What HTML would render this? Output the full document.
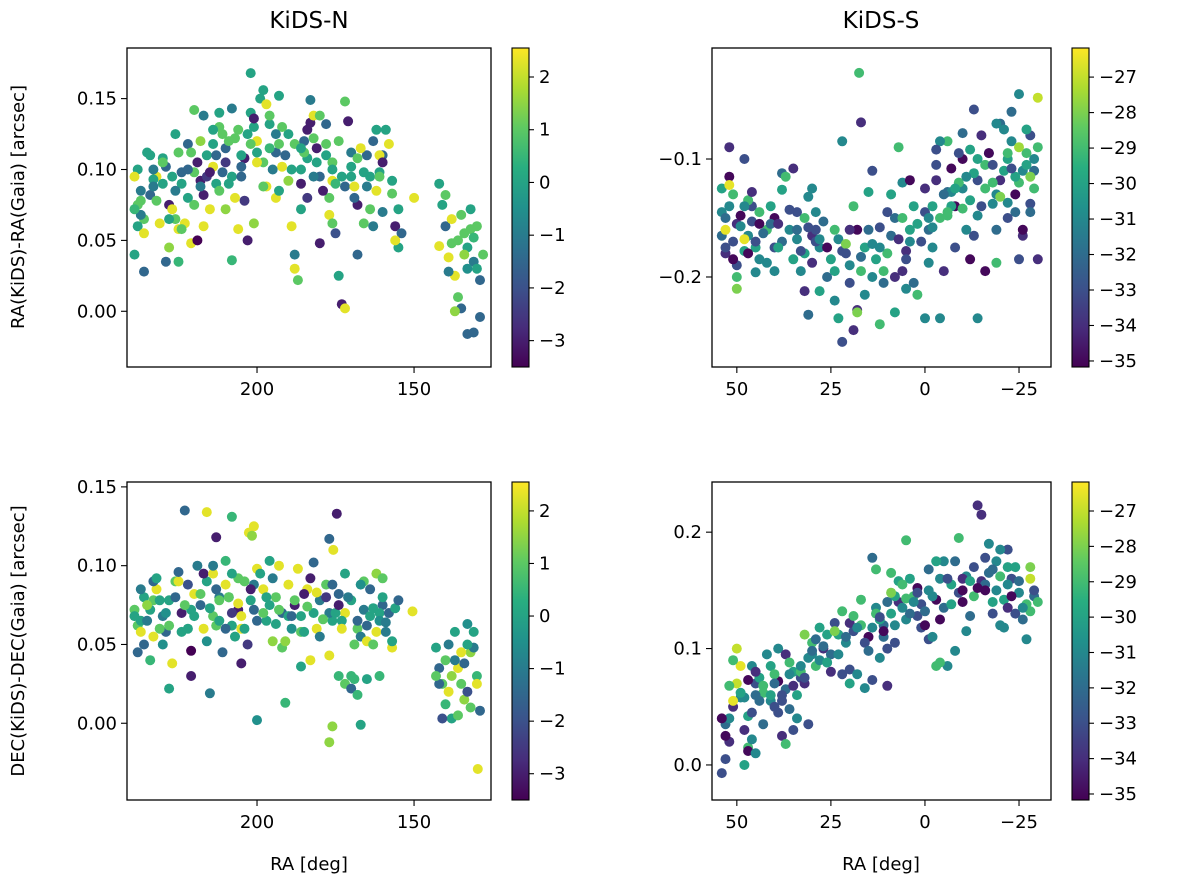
<!DOCTYPE html>
<html><head><meta charset="utf-8">
<style>
html,body{margin:0;padding:0;background:#fff;}
svg text{font-family:"DejaVu Sans","Liberation Sans",sans-serif;fill:#000;}
</style></head>
<body>
<svg id="fig" width="1200" height="891" viewBox="0 0 1200 891" xmlns="http://www.w3.org/2000/svg">
<defs>
<linearGradient id="viridis" x1="0" y1="1" x2="0" y2="0">
<stop offset="0" stop-color="#440154"/><stop offset="0.125" stop-color="#472d7b"/>
<stop offset="0.25" stop-color="#3b528b"/><stop offset="0.375" stop-color="#2c728e"/>
<stop offset="0.5" stop-color="#21918c"/><stop offset="0.625" stop-color="#28ae80"/>
<stop offset="0.75" stop-color="#5ec962"/><stop offset="0.875" stop-color="#addc30"/>
<stop offset="1" stop-color="#fde725"/>
</linearGradient>
</defs>
<text x="309" y="28" font-size="23" text-anchor="middle">KiDS-N</text>
<text x="881" y="28" font-size="23" text-anchor="middle">KiDS-S</text>
<text transform="translate(24,207) rotate(-90)" font-size="18" text-anchor="middle">RA(KiDS)-RA(Gaia) [arcsec]</text>
<text transform="translate(24,641) rotate(-90)" font-size="18" text-anchor="middle">DEC(KiDS)-DEC(Gaia) [arcsec]</text>
<text x="309" y="870" font-size="18" text-anchor="middle">RA [deg]</text>
<text x="881" y="870" font-size="18" text-anchor="middle">RA [deg]</text>
</svg>
<script>
// ---- Top-left: KiDS-N, RA offset ----
const raTL=[239,238,237,239,236,238,235,237,239,236,
234,233,232,231,230,229,228,227,226,225,
226,225,224,223,222,221,220,219,218,224,
219,218,217,216,215,214,213,212,217,215,
212,211,210,209,208,207,206,205,210,208,
205,204,203,202,201,200,199,198,203,201,
198,197,196,195,194,193,192,191,190,196,
189,188,187,186,185,184,183,182,188,186,
183,182,181,180,179,178,177,176,175,180,
176,175,174,173,172,172,171,170,169,168,
167,166,165,164,163,162,161,160,158,157,
156,155,155,154,156,157,150,159,163,161,
142,141,140,139,138,137,136,135,134,133,
132,131,130,129,128,142,137,133,131,130,
136,135,134,133,132,131,140,139,138,129,
230,227,222,214,207,200,194,186,178,170,
233,228,220,211,202,193,184,176,168,160];
const dTL=[0.095,0.075,0.068,0.040,0.028,0.060,0.112,0.085,0.072,0.055,
0.110,0.100,0.078,0.062,0.090,0.035,0.045,0.072,0.085,0.112,
0.125,0.035,0.098,0.062,0.080,0.048,0.142,0.105,0.088,0.058,
0.050,0.120,0.138,0.095,0.072,0.128,0.110,0.085,0.060,0.098,
0.140,0.125,0.105,0.090,0.143,0.080,0.058,0.110,0.072,0.036,
0.095,0.078,0.125,0.168,0.136,0.105,0.150,0.088,0.050,0.062,
0.156,0.146,0.115,0.100,0.080,0.152,0.130,0.110,0.092,0.138,
0.060,0.030,0.022,0.072,0.112,0.128,0.133,0.095,0.040,0.115,
0.149,0.138,0.105,0.138,0.085,0.132,0.068,0.105,0.090,0.048,
0.062,0.055,0.025,0.005,0.002,0.148,0.134,0.112,0.080,0.040,
0.115,0.098,0.088,0.072,0.120,0.128,0.110,0.105,0.118,0.083,
0.060,0.072,0.045,0.055,0.050,0.092,0.080,0.128,0.060,0.095,
0.090,0.075,0.060,0.038,0.048,0.025,0.010,0.002,0.055,0.045,
0.072,0.035,0.060,0.022,0.040,0.046,0.000,-0.016,-0.015,0.030,
0.050,0.068,0.040,0.030,0.058,0.052,0.082,0.028,0.065,-0.004,
0.105,0.095,0.100,0.118,0.122,0.112,0.125,0.100,0.118,0.095,
0.088,0.065,0.075,0.098,0.118,0.085,0.080,0.100,0.108,0.070];
const cTL=[2.3,1,-1,0,-1.5,0,0,-1,0.5,2.3,
0,-1,1,2.3,0,-1.5,1.5,2.3,-1,1,
0,0.5,-1.5,2.3,0,2.3,1,-3,-1,1,
-3.5,1.5,-1,-2.5,2.3,0,-1.5,1,2.3,-3,
0,1,-2.5,0,-1,2.3,2.3,0,1.5,0.5,
-1.5,-2.5,0,0,-3,2.3,0,1,-3,1.5,
0,2.3,0.5,-1,2.3,0,1,-1.5,1.5,1,
2.3,2.3,1,0,1,-3,-3,-1,-1,0,
-1,2.3,0,1,-3,-1.5,2.3,1,0.5,-3,
1,-2,0,-3,2.3,1,-3,-1,-1.5,-1.5,
2.3,0,-1,1,-1.5,0,2.3,-3,2.3,1,
-3,0,0,-1.5,2.3,0,2.3,0,-1,1,
0,0,-1.5,2.3,1,2.3,1,-1.5,1,0,
0,-1,1,-1.5,1,2.3,1.5,-1.5,-1.5,0,
1,1,1.5,-0.5,1,0.5,1,-1,2.3,-1.5,
1,0,-1.5,0,1,0,-1,0,1,0,
-1,0,1,-1.5,1,0,-2.5,0,1,-1];
const raTLb=[238,236,234,232,230,228,226,224,222,220,
218,216,214,212,210,208,206,204,202,200,
198,196,194,192,190,188,186,184,182,180,
178,176,174,172,170,168,166,164,162,160,
237,233,229,225,221,217,213,209,205,201,
197,193,189,185,181,177,173,169,165,161];
const dTLb=[0.100,0.065,0.082,0.095,0.108,0.075,0.065,0.090,0.118,0.098,
0.092,0.110,0.102,0.130,0.115,0.095,0.128,0.108,0.140,0.120,
0.105,0.132,0.112,0.102,0.125,0.118,0.090,0.108,0.122,0.095,
0.110,0.092,0.120,0.088,0.102,0.075,0.062,0.095,0.085,0.110,
0.078,0.093,0.102,0.058,0.112,0.082,0.090,0.120,0.102,0.130,
0.088,0.118,0.100,0.120,0.115,0.080,0.095,0.088,0.110,0.098];
const cTLb=[0,1,-1.5,2.3,0,-3,1,0,-1.5,1,
-3,0,2.3,1,-1.5,0,1,-3,0,2.3,
1,0,-1.5,2.3,0,1,-3,0,1,-1.5,
0,2.3,1,-1.5,0,-3,1,0,2.3,-1.5,
1,0,-1.5,2.3,1,-3,0,1,-1.5,0,
2.3,1,0,-1.5,-3,1,0,2.3,-1.5,0];

// ---- Top-right: KiDS-S, RA offset ----
const raTR=[54,53,53,52,52,51,50,50,49,48,
54,52,51,50,49,48,47,47,46,45,
46,45,44,43,42,41,40,40,39,38,
38,37,36,35,34,33,32,31,30,29,
33,32,31,30,29,28,27,26,25,24,
24,23,22,22,21,20,20,19,18,17,
19,18,17.5,17,16,15,15,14,13,12,
12,11,10,9,8,7,6,5,4,3,
9,8,6,5,4,3,2,1,0,-1,
0,-1,-2,-3,-4,-5,-6,-7,-8,-9,
-10,-11,-12,-13,-14,-15,-16,-17,-18,-19,
-20,-21,-22,-23,-24,-25,-26,-27,-28,-29,
-30,-30,-29,-28,-27,-26,-25,-24,-23,-22,
-21,-20,-19,-18,-17,-16,-15,-14,-13,-12,
-11,-10,-9,-8,-7,-6,-5,-4,-3,-2,
-28,-27,-25,-23,-22,-19,-14,-10,-6,-3,
53,51,48,44,39,34,28,21,14,7];
const dTR=[-0.145,-0.160,-0.175,-0.115,-0.090,-0.130,-0.190,-0.200,-0.148,-0.168,
-0.125,-0.122,-0.185,-0.210,-0.157,-0.100,-0.135,-0.180,-0.153,-0.196,
-0.128,-0.170,-0.145,-0.163,-0.188,-0.140,-0.175,-0.195,-0.155,-0.112,
-0.126,-0.115,-0.143,-0.108,-0.168,-0.178,-0.150,-0.132,-0.188,-0.145,
-0.195,-0.212,-0.232,-0.125,-0.160,-0.212,-0.153,-0.175,-0.185,-0.195,
-0.220,-0.235,-0.255,-0.085,-0.172,-0.205,-0.160,-0.140,-0.228,-0.183,
-0.245,-0.230,-0.027,-0.069,-0.215,-0.160,-0.128,-0.110,-0.185,-0.240,
-0.175,-0.195,-0.145,-0.165,-0.230,-0.090,-0.120,-0.185,-0.160,-0.205,
-0.130,-0.200,-0.150,-0.210,-0.118,-0.140,-0.215,-0.170,-0.125,-0.188,
-0.235,-0.160,-0.140,-0.105,-0.235,-0.195,-0.085,-0.128,-0.175,-0.120,
-0.100,-0.160,-0.185,-0.112,-0.235,-0.140,-0.195,-0.095,-0.120,-0.188,
-0.070,-0.110,-0.150,-0.085,-0.130,-0.045,-0.165,-0.105,-0.080,-0.125,
-0.048,-0.185,-0.100,-0.145,-0.095,-0.160,-0.185,-0.115,-0.060,-0.137,
-0.075,-0.132,-0.160,-0.105,-0.095,-0.125,-0.080,-0.148,-0.058,-0.092,
-0.115,-0.142,-0.095,-0.125,-0.108,-0.148,-0.130,-0.085,-0.118,-0.158,
-0.115,-0.075,-0.090,-0.108,-0.095,-0.070,-0.100,-0.078,-0.145,-0.092,
-0.150,-0.170,-0.140,-0.155,-0.175,-0.160,-0.168,-0.180,-0.172,-0.168];
const cTR=[-31,-26.5,-33,-35,-34,-29,-33,-29,-35,-26.5,
-30,-26.5,-35,-28,-31,-33,-29,-35,-33,-31,
-34,-33,-29,-32,-31,-30,-33,-31,-34,-32,
-30,-29,-33,-34,-31,-33,-29,-31,-34,-31,
-31,-34,-32,-31,-33,-30,-32,-35,-30,-30,
-31,-30,-33,-31,-28,-33,-34,-29,-34,-32,
-34,-28,-29,-34,-31,-32,-30,-33,-30,-29,
-31,-29,-33,-32,-30,-29,-31,-33,-30,-32,
-30,-34,-29,-31,-35,-30,-29,-33,-34,-31,
-31,-32,-30,-33,-31,-34,-29,-31,-33,-29,
-35,-31,-35,-30,-31,-33,-35,-32,-29,-29,
-32,-30,-33,-31,-35,-31,-34,-30,-33,-29,
-27,-34,-31,-32,-29,-35,-33,-30,-32,-31,
-31,-28,-32,-33,-35,-29,-34,-31,-33,-30,
-31,-29,-33,-30,-35,-29,-32,-31,-34,-31,
-28,-30,-27.5,-33,-29,-31,-30,-32,-29,-33,
-32,-33,-31,-35,-30,-32,-31,-33,-31,-34];
const raTRb=[54,52,50,48,46,44,42,40,38,36,
34,32,30,28,26,24,22,20,18,16,
14,12,10,8,6,4,2,0,-2,-4,
-6,-8,-10,-12,-14,-16,-18,-20,-22,-24,
-26,-28,-30,53,47,41,35,29,23,17,
11,5,-1,-7,-13,-19,-25,-29,45,31];
const dTRb=[-0.165,-0.140,-0.155,-0.178,-0.140,-0.185,-0.160,-0.150,-0.170,-0.160,
-0.145,-0.180,-0.165,-0.175,-0.200,-0.160,-0.178,-0.190,-0.160,-0.175,
-0.200,-0.158,-0.180,-0.150,-0.195,-0.170,-0.155,-0.145,-0.175,-0.150,
-0.128,-0.140,-0.125,-0.135,-0.118,-0.105,-0.138,-0.118,-0.100,-0.145,
-0.110,-0.138,-0.090,-0.180,-0.165,-0.155,-0.185,-0.170,-0.168,-0.195,
-0.205,-0.178,-0.150,-0.140,-0.165,-0.130,-0.120,-0.110,-0.175,-0.158];
const cTRb=[-32,-31,-34,-30,-33,-31,-29,-35,-32,-31,
-33,-30,-34,-31,-32,-29,-33,-31,-35,-30,
-31,-33,-29,-32,-34,-31,-30,-33,-31,-29,
-32,-35,-31,-30,-33,-29,-31,-34,-30,-32,
-31,-33,-29,-34,-31,-32,-30,-33,-31,-29,
-32,-34,-31,-30,-33,-31,-29,-32,-30,-33];

// ---- Bottom-left: KiDS-N, DEC offset ----
const raBL=[223,216,208,174.6,202.6,201,201.6,213,177,175.7,
150.5,129.7,177,176,167,200,191,215,228,221,
239,238,237,236,235,234,233,232,231,230,
239,237,235,233,231,229,228,227,226,225,
224,223,222,221,220,219,218,217,216,215,
214,213,212,211,210,209,208,207,206,205,
214,212,210,208,206,205,204,203,202,201,
200,199,198,197,196,195,194,193,192,191,
190,189,188,187,186,185,184,183,182,181,
180,179,178,177,176,175,174,173,172,171,
170,169,168,167,166,165,164,163,162,161,
160,159,158,157,156,155,174,172,170,168,
163,161,159,157,165,160,167,183,186,195,
143,142,141,140,139,138,137,136,135,134,
133,132,131,130,129,130,131,133,135,138,
142,140,137,134,132,139,136,141,143,133];
const dBL=[0.135,0.134,0.131,0.133,0.121,0.125,0.119,0.118,0.117,0.110,
0.071,-0.029,-0.012,-0.002,-0.001,0.002,0.013,0.019,0.022,0.030,
0.072,0.045,0.058,0.080,0.065,0.040,0.090,0.092,0.060,0.050,
0.068,0.085,0.075,0.055,0.078,0.070,0.062,0.038,0.080,0.096,
0.058,0.075,0.088,0.046,0.068,0.100,0.082,0.060,0.052,0.073,
0.095,0.085,0.065,0.045,0.103,0.080,0.070,0.055,0.092,0.068,
0.100,0.078,0.060,0.095,0.076,0.038,0.060,0.050,0.085,0.072,
0.098,0.095,0.070,0.080,0.103,0.092,0.063,0.100,0.048,0.052,
0.088,0.060,0.078,0.098,0.068,0.082,0.074,0.092,0.102,0.060,
0.055,0.066,0.080,0.043,0.088,0.070,0.075,0.060,0.095,0.080,
0.030,0.028,0.065,0.055,0.090,0.052,0.085,0.073,0.095,0.065,
0.080,0.058,0.070,0.048,0.073,0.078,0.030,0.025,0.022,0.018,
0.050,0.030,0.064,0.052,0.028,0.092,0.088,0.040,0.036,0.052,
0.048,0.035,0.025,0.012,0.050,0.003,0.058,0.035,0.025,0.015,
0.063,0.045,0.058,0.030,0.008,0.025,0.048,0.020,0.045,0.030,
0.025,0.040,0.040,0.038,0.010,0.020,0.005,0.003,0.030,0.050];
const cBL=[-1.5,2.3,0.5,-3,2.3,2.3,1.5,-3,-1.5,2.3,
2.3,2.3,1.5,1.5,0,-0.5,0.5,-1,0,-3,
1,-1.5,2.3,0,-1,0.5,-1.5,0,1,-0.5,
0,-1,1.5,2.3,0,-0.5,1,2.3,-1.5,-1.5,
0,1,-2,-3.5,0,-1,1,2.3,-0.5,0,
2.3,-1.5,0,-1.5,0.5,1,-2.5,0,1,2.3,
-1,1,-1.5,0,2.3,-3,0,-2.5,-3,-1.5,
2.3,0,1,0,0,-1,0,2.3,1,1.5,
2.3,-0.5,1,2.3,0,-3,1,-3,-1.5,2.3,
-1,1,-2.5,2.3,-1.5,0,-3,2.3,0,-1,
0.5,0.5,-1.5,-1,1,2.3,-1.5,0,1.5,-0.5,
0,-1,-1.5,2.3,0,-1.5,0.5,1,-1.5,0.5,
1,0.5,-1,0,0,1,-0.5,2.3,0,1.5,
0,-1.5,1,0.5,-1,0,0,2.3,1,1.5,
-0.5,1.5,0,0.5,-1.5,2.3,-1,-2,2.3,1.5,
-1.5,1,-1,-1.5,1,2.3,1,-2,1,0];
const raBLb=[238,236,234,232,230,228,226,224,222,220,
218,216,214,212,210,208,206,204,202,200,
198,196,194,192,190,188,186,184,182,180,
178,176,174,172,170,168,166,164,162,160,
237,233,229,225,221,217,213,209,205,201,
197,193,189,185,181,177,173,169,165,161];
const dBLb=[0.062,0.050,0.072,0.085,0.068,0.078,0.090,0.070,0.060,0.082,
0.075,0.090,0.068,0.080,0.088,0.062,0.072,0.090,0.078,0.065,
0.085,0.075,0.080,0.070,0.068,0.075,0.058,0.085,0.070,0.078,
0.088,0.065,0.082,0.070,0.078,0.060,0.072,0.068,0.058,0.075,
0.065,0.078,0.058,0.090,0.072,0.095,0.062,0.080,0.060,0.088,
0.065,0.072,0.068,0.058,0.083,0.070,0.065,0.050,0.062,0.070];
const cBLb=[1,-1.5,0,2.3,-1,0,1,-3,0,2.3,
-1.5,0,1,-1,2.3,0,-3,1,0,-1.5,
2.3,0,1,-1.5,0,-3,1,2.3,0,-1,
1,0,-1.5,2.3,0,1,-1,0,2.3,-1.5,
0,1,-1.5,2.3,0,-3,1,0,2.3,-1,
0,1,-1.5,0,2.3,-1,0,1,-1.5,0];

// ---- Bottom-right: KiDS-S, DEC offset ----
const raBR=[54,53,52,51,50,49,48,47,46,45,
54,52,50,48,47,46,45,44,43,42,
53,51,49,47,45,43,41,40,39,38,
41,40,39,38,37,36,35,34,33,32,
37,36,35,34,33,32,31,30,29,28,
28,27,26,25,24,23,22,21,20,19,
18,17,16,15,14,13,12,11,10,9,
14,13,12,11,10,9,8,7,6,5,
5,4,3,2,1,0,-1,-2,-3,-4,
-5,-6,-7,-8,-9,-10,-11,-12,-13,-14,
-15,-16,-17,-18,-19,-20,-21,-22,-23,-24,
-25,-26,-27,-28,-29,-30,-24,-22,-20,-18,
-6,-4,-2,0,2,4,6,8,10,12,
-8,-10,-12,-14,-16,-18,-20,-22,-26,-28,
20,18,16,24,26,30,32,22,-1,-3];
const dBR=[-0.007,0.025,0.040,0.055,0.070,0.085,0.030,0.015,0.045,0.060,
0.040,0.068,0.100,0.000,0.073,0.022,0.080,0.055,0.068,0.095,
0.005,0.090,0.062,0.012,0.010,0.035,0.085,0.078,0.045,0.025,
0.060,0.070,0.100,0.055,0.095,0.088,0.068,0.040,0.080,0.112,
0.018,0.048,0.030,0.060,0.085,0.070,0.035,0.095,0.108,0.118,
0.090,0.102,0.112,0.080,0.122,0.095,0.078,0.110,0.070,0.128,
0.118,0.142,0.105,0.098,0.073,0.130,0.125,0.110,0.068,0.148,
0.178,0.168,0.092,0.115,0.100,0.165,0.120,0.158,0.135,0.143,
0.193,0.160,0.140,0.152,0.118,0.132,0.108,0.145,0.085,0.125,
0.175,0.160,0.138,0.098,0.195,0.150,0.115,0.128,0.170,0.223,
0.215,0.150,0.190,0.130,0.175,0.162,0.118,0.185,0.145,0.170,
0.158,0.135,0.108,0.170,0.150,0.140,0.130,0.155,0.120,0.168,
0.085,0.088,0.110,0.120,0.148,0.130,0.155,0.105,0.140,0.127,
0.175,0.160,0.158,0.152,0.178,0.140,0.185,0.135,0.125,0.160,
0.082,0.078,0.066,0.115,0.088,0.098,0.075,0.132,0.168,0.175];
const cBR=[-33,-35,-31,-26.5,-27,-26.5,-34,-29,-33,-32,
-35,-29,-27,-30,-35,-31,-34,-32,-29,-31,
-33,-29,-30,-35,-31,-32,-30,-29,-33,-34,
-30,-32,-31,-33,-34,-29,-34,-31,-29,-28,
-29,-32,-33,-30,-31,-34,-33,-31,-32,-30,
-31,-32,-30,-34,-33,-31,-33,-32,-30,-29,
-31,-29,-33,-32,-33,-29,-30,-32,-34,-28,
-32,-29,-31,-35,-33,-29,-31,-30,-31,-29,
-29,-30,-31,-35,-33,-32,-33,-31,-29,-35,
-31,-33,-30,-31,-29,-35,-31,-32,-33,-34,
-34,-35,-31,-33,-31,-29,-31,-33,-35,-30,
-32,-31,-31,-28,-33,-29,-33,-31,-31,-32,
-31,-29,-31,-35,-33,-32,-29,-33,-32,-33,
-32,-34,-30,-35,-33,-30,-31,-34,-32,-27,
-33,-31,-31,-28,-30,-32,-33,-29,-32,-30];
const raBRb=[53,51,49,47,45,43,41,39,37,35,
33,31,29,27,25,23,21,19,17,15,
13,11,9,7,5,3,1,-1,-3,-5,
-7,-9,-11,-13,-15,-17,-19,-21,-23,-25,
-27,-29,52,48,44,40,36,30,26,20,
14,8,2,-4,-10,-16,-22,-28,46,38];
const dBRb=[0.035,0.050,0.058,0.042,0.070,0.062,0.055,0.072,0.065,0.080,
0.075,0.092,0.085,0.100,0.095,0.112,0.105,0.115,0.120,0.110,
0.135,0.120,0.130,0.140,0.125,0.145,0.138,0.150,0.142,0.135,
0.155,0.148,0.162,0.145,0.158,0.165,0.150,0.142,0.160,0.148,
0.138,0.145,0.020,0.058,0.075,0.050,0.078,0.105,0.088,0.122,
0.118,0.145,0.128,0.160,0.140,0.155,0.170,0.132,0.085,0.060];
const cBRb=[-32,-34,-31,-30,-33,-29,-31,-35,-32,-30,
-33,-31,-29,-34,-32,-30,-31,-33,-29,-35,
-31,-32,-30,-34,-31,-29,-33,-31,-35,-32,
-30,-33,-31,-29,-34,-32,-31,-30,-33,-31,
-29,-32,-34,-31,-30,-33,-31,-29,-32,-34,
-31,-30,-33,-31,-35,-32,-30,-29,-31,-33];

// tick label arrays
const xTicksN=[200,150];
const xTicksS=[50,25,0,-25];
const yTicksTL=[0.15,0.10,0.05,0.00];
const yTicksTR=[-0.1,-0.2];
const yTicksBL=[0.15,0.10,0.05,0.00];
const yTicksBR=[0.2,0.1,0.0];
const cbTicksN=[2,1,0,-1,-2,-3];
const cbTicksS=[-27,-28,-29,-30,-31,-32,-33,-34,-35];

const NS="http://www.w3.org/2000/svg";
const fig=document.getElementById('fig');
const VIR=["#440154","#472d7b","#3b528b","#2c728e","#21918c","#28ae80","#5ec962","#addc30","#fde725"];
function hex(h){return [parseInt(h.slice(1,3),16),parseInt(h.slice(3,5),16),parseInt(h.slice(5,7),16)];}
function viridis(t){t=Math.max(0,Math.min(1,t));const p=t*8,i=Math.min(7,Math.floor(p)),f=p-i;
 const a=hex(VIR[i]),b=hex(VIR[i+1]);return 'rgb('+a.map((v,k)=>Math.round(v+(b[k]-v)*f)).join(',')+')';}
function el(tag,attrs,parent){const e=document.createElementNS(NS,tag);for(const k in attrs)e.setAttribute(k,attrs[k]);(parent||fig).appendChild(e);return e;}
function fmt(v,dec){const s=Math.abs(v).toFixed(dec);return (v<0?'\u2212':'')+s;}

function panel(o){
 const g=el('g',{});
 
 
 const X=v=>o.x0+(v-o.xmin)/(o.xmax-o.xmin)*(o.x1-o.x0);
 const Y=v=>o.y1-(v-o.ymin)/(o.ymax-o.ymin)*(o.y1-o.y0);
 const C=v=>(v-o.cmin)/(o.cmax-o.cmin);
 const pts=el('g',{},g);
 
 
 for(let i=0;i<o.xs.length;i++){
  const c=el('circle',{cx:X(o.xs[i]).toFixed(1),cy:Y(o.ys[i]).toFixed(1),r:5,fill:viridis(C(o.cs[i]))},pts);
  
  
 }
 const frame=el('rect',{x:o.x0,y:o.y0,width:o.x1-o.x0,height:o.y1-o.y0,fill:'none',stroke:'#000','stroke-width':1.3},g);
 
 
 o.xt.forEach(v=>{const x=X(v);
  el('line',{x1:x,x2:x,y1:o.y1,y2:o.y1+6,stroke:'#000','stroke-width':1.1},g);
  const t=el('text',{x:x,y:o.y1+28,'font-size':18,'text-anchor':'middle'},g);t.textContent=fmt(v,0);
  
  });
 o.yt.forEach(v=>{const y=Y(v);
  el('line',{x1:o.x0-6,x2:o.x0,y1:y,y2:y,stroke:'#000','stroke-width':1.1},g);
  const t=el('text',{x:o.x0-10,y:y+6,'font-size':18,'text-anchor':'end'},g);t.textContent=fmt(v,o.ydec);
  
  });
 const cb=el('rect',{x:o.cbx,y:o.y0,width:17,height:o.y1-o.y0,fill:'url(#viridis)',stroke:'#000','stroke-width':1.1},g);
 
 
 o.ct.forEach(v=>{const y=o.y1-C(v)*(o.y1-o.y0);
  el('line',{x1:o.cbx+17,x2:o.cbx+22,y1:y,y2:y,stroke:'#000','stroke-width':1.1},g);
  const t=el('text',{x:o.cbx+27,y:y+6,'font-size':18},g);t.textContent=fmt(v,0);
  
  });
}
const xN={xmin:241.4,xmax:125.5,x0:127,x1:491,cbx:512,cmin:-3.5,cmax:2.55,ct:cbTicksN,xt:xTicksN};
const xS={xmin:56.6,xmax:-33.5,x0:712,x1:1051,cbx:1072,cmin:-35.17,cmax:-26.18,ct:cbTicksS,xt:xTicksS};
panel(Object.assign({name:'panel-ra-kids-n',xs:raTLb.concat(raTL),ys:dTLb.concat(dTL),cs:cTLb.concat(cTL),y0:48,y1:367,ymin:-0.0393,ymax:0.1857,yt:yTicksTL,ydec:2},xN));
panel(Object.assign({name:'panel-ra-kids-s',xs:raTRb.concat(raTR),ys:dTRb.concat(dTR),cs:cTRb.concat(cTR),y0:48,y1:367,ymin:-0.2763,ymax:-0.0059,yt:yTicksTR,ydec:1},xS));
panel(Object.assign({name:'panel-dec-kids-n',xs:raBLb.concat(raBL),ys:dBLb.concat(dBL),cs:cBLb.concat(cBL),y0:482,y1:800,ymin:-0.0487,ymax:0.1531,yt:yTicksBL,ydec:2},xN));
panel(Object.assign({name:'panel-dec-kids-s',xs:raBRb.concat(raBR),ys:dBRb.concat(dBR),cs:cBRb.concat(cBR),y0:482,y1:800,ymin:-0.0301,ymax:0.2431,yt:yTicksBR,ydec:1},xS));
</script>
</body></html>
